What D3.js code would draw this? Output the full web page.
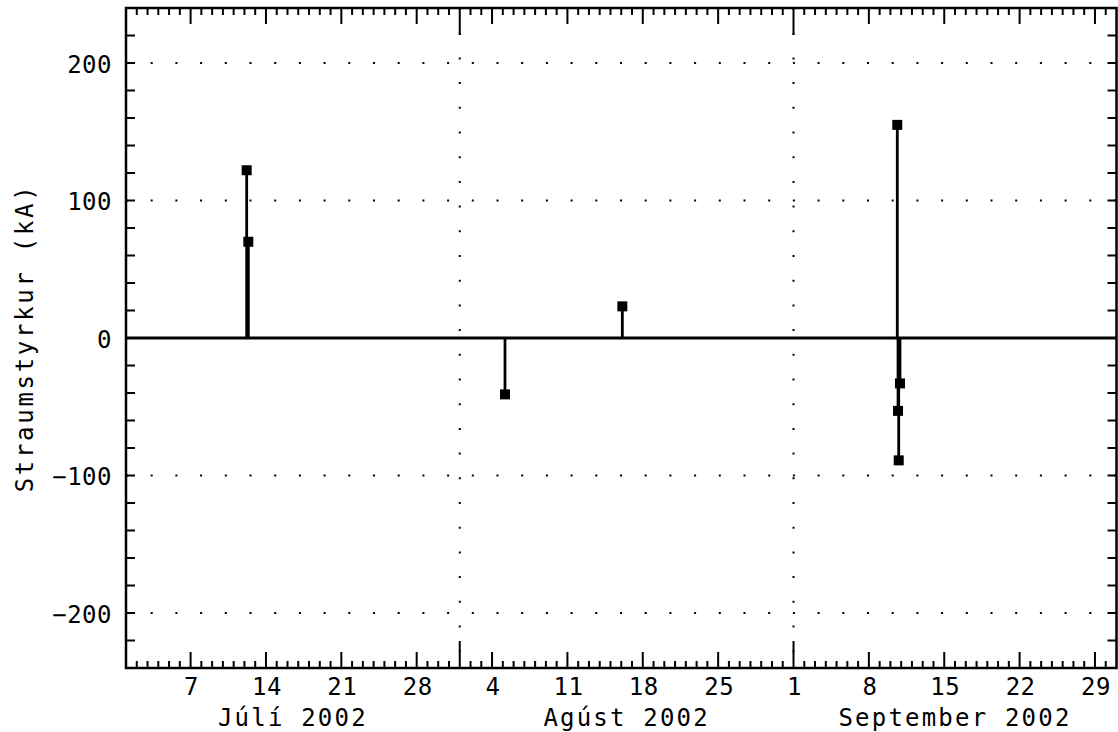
<!DOCTYPE html>
<html><head><meta charset="utf-8">
<script src="https://cdn.jsdelivr.net/npm/d3@7"></script>
<style>
html,body{margin:0;padding:0;background:#fff;}
text{font-family:"DejaVu Sans Mono",monospace;fill:#000;}
</style></head>
<body>
<svg id="chart" width="1118" height="732"></svg>
<script>
// ---- data ----
const strikeTimes = ["2002-07-12T05:00Z","2002-07-12T08:40Z","2002-08-05T04:50Z","2002-08-16T02:25Z",
                     "2002-09-10T15:20Z","2002-09-10T21:20Z","2002-09-10T17:00Z","2002-09-10T18:30Z"];
const strikeValues = [122, 70, -41, 23, 155, -33, -53, -89];
const yTickValues = [-200, -100, 0, 100, 200];
const yGridValues = [-200, -100, 100, 200];
const monthLabels = ["Júlí 2002", "Agúst 2002", "September 2002"];
const yTitle = "Straumstyrkur (kA)";

const svg = d3.select("#chart");
const L = 126, R = 1116.5, T = 8, B = 668;
const x = d3.scaleUtc().domain([new Date("2002-07-01T00:00Z"), new Date("2002-10-01T00:00Z")]).range([L, R]);
const y = d3.scaleLinear().domain([-240, 240]).range([B, T]);

const days = d3.utcDay.range(new Date("2002-07-02T00:00Z"), new Date("2002-10-01T00:00Z"));
const months = d3.utcMonth.range(new Date("2002-07-01T00:00Z"), new Date("2002-10-02T00:00Z"));
const innerMonths = months.slice(1, 3);
const sundays = d3.utcSunday.range(new Date("2002-07-01T00:00Z"), new Date("2002-10-01T00:00Z"));

const dotted = "2,22.7";
// horizontal grid
svg.append("g").selectAll("line").data(yGridValues).join("line")
  .attr("x1", L).attr("x2", R).attr("y1", d => y(d)).attr("y2", d => y(d))
  .attr("stroke", "#000").attr("stroke-width", 2).attr("stroke-dasharray", dotted);
// vertical grid at month boundaries
svg.append("g").selectAll("line").data(innerMonths).join("line")
  .attr("x1", d => x(d)).attr("x2", d => x(d)).attr("y1", T).attr("y2", B)
  .attr("stroke", "#000").attr("stroke-width", 2).attr("stroke-dasharray", dotted);

// ticks (x) bottom & top
function tickLen(d) {
  if (d.getUTCDate() === 1) return 27;
  if (d.getUTCDay() === 0) return 16;
  return 7;
}
const xt = svg.append("g").attr("stroke", "#000").attr("stroke-width", 2);
xt.selectAll("line.b").data(days).join("line").attr("class", "b")
  .attr("x1", d => x(d)).attr("x2", d => x(d)).attr("y1", B).attr("y2", d => B - tickLen(d));
xt.selectAll("line.t").data(days).join("line").attr("class", "t")
  .attr("x1", d => x(d)).attr("x2", d => x(d)).attr("y1", T).attr("y2", d => T + tickLen(d));

// y ticks every 20
const yTicks = d3.range(-220, 240, 20);
const yt = svg.append("g").attr("stroke", "#000").attr("stroke-width", 2);
yt.selectAll("line.l").data(yTicks).join("line").attr("class", "l")
  .attr("x1", L).attr("x2", L + 9).attr("y1", d => y(d)).attr("y2", d => y(d));
yt.selectAll("line.r").data(yTicks).join("line").attr("class", "r")
  .attr("x1", R).attr("x2", R - 9).attr("y1", d => y(d)).attr("y2", d => y(d));

// zero line
svg.append("line").attr("x1", L).attr("x2", R).attr("y1", y(0)).attr("y2", y(0))
  .attr("stroke", "#000").attr("stroke-width", 3);

// stems and markers
const data = strikeTimes.map((t, i) => ({t: new Date(t), v: strikeValues[i]}));
svg.append("g").selectAll("line").data(data).join("line")
  .attr("x1", d => x(d.t)).attr("x2", d => x(d.t)).attr("y1", y(0)).attr("y2", d => y(d.v))
  .attr("stroke", "#000").attr("stroke-width", 2.8);
const ms = 10;
svg.append("g").selectAll("rect").data(data).join("rect")
  .attr("x", d => x(d.t) - ms / 2).attr("y", d => y(d.v) - ms / 2)
  .attr("width", ms).attr("height", ms).attr("fill", "#000");

// frame
svg.append("rect").attr("x", L).attr("y", T).attr("width", R - L).attr("height", B - T)
  .attr("fill", "none").attr("stroke", "#000").attr("stroke-width", 2.5);

// y tick labels
svg.append("g").selectAll("text").data(yTickValues).join("text")
  .attr("x", 112).attr("y", d => y(d) + 9.5).attr("text-anchor", "end")
  .attr("font-size", 24).attr("letter-spacing", 0.5)
  .text(d => d < 0 ? "\u2212" + Math.abs(d) : d);

// x tick labels (Sundays)
svg.append("g").selectAll("text").data(sundays).join("text")
  .attr("x", d => x(d) + 1).attr("y", 695).attr("text-anchor", "middle")
  .attr("font-size", 24).attr("letter-spacing", 0.5)
  .text(d => d.getUTCDate());

// month labels
svg.append("g").selectAll("text").data(monthLabels).join("text")
  .attr("x", (d, i) => (x(months[i]) + x(months[i + 1])) / 2).attr("y", 726)
  .attr("text-anchor", "middle").attr("font-size", 24).attr("letter-spacing", 2.2)
  .text(d => d);

// y title
svg.append("text").attr("transform", "translate(33,338) rotate(-90)")
  .attr("text-anchor", "middle").attr("font-size", 24).attr("letter-spacing", 2.7)
  .text(yTitle);
</script>
</body></html>
